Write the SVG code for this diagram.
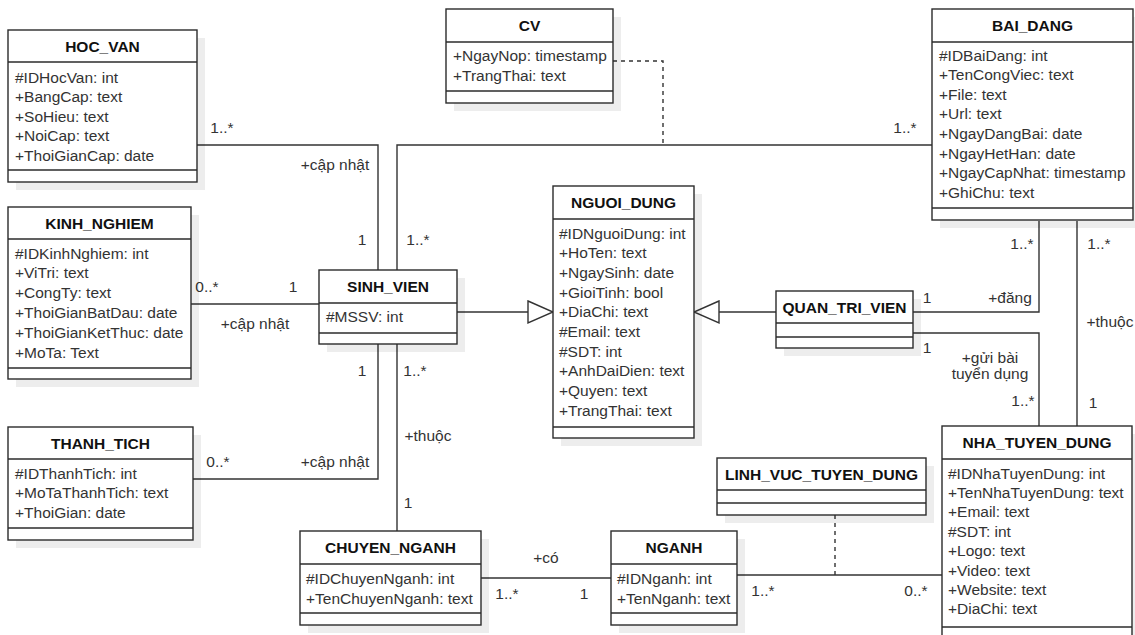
<svg xmlns="http://www.w3.org/2000/svg" width="1135" height="635" viewBox="0 0 1135 635">
<style>
.sh{fill:#000;opacity:0.07}
.bx{fill:#fff;stroke:#2b2b2b;stroke-width:1.4}
.sp{stroke:#2b2b2b;stroke-width:1.4}
.t{font-family:"Liberation Sans",Arial,sans-serif;font-size:15.5px;font-weight:bold;fill:#111;text-anchor:middle}
.a{font-family:"Liberation Sans",Arial,sans-serif;font-size:15.5px;fill:#333}
.l{font-family:"Liberation Sans",Arial,sans-serif;font-size:15.5px;fill:#333;text-anchor:middle}
.c{fill:none;stroke:#333;stroke-width:1.4}
.d{fill:none;stroke:#333;stroke-width:1.4;stroke-dasharray:4 4}
.tri{fill:#fff;stroke:#333;stroke-width:1.4}
</style>
<rect width="1135" height="635" fill="#fff"/>

<g id="connectors">
  <!-- HOC_VAN - SINH_VIEN -->
  <polyline class="c" points="197,145 378,145 378,270"/>
  <text class="l" x="222" y="132.5">1..*</text>
  <text class="l" x="335" y="169.5">+cập nhật</text>
  <text class="l" x="362" y="244.5">1</text>
  <!-- BAI_DANG - SINH_VIEN -->
  <polyline class="c" points="932,145 397,145 397,270"/>
  <text class="l" x="905" y="132.5">1..*</text>
  <text class="l" x="418" y="244.5">1..*</text>
  <!-- CV dashed -->
  <polyline class="d" points="613,61 663,61 663,145"/>
  <!-- KINH_NGHIEM - SINH_VIEN -->
  <line class="c" x1="191" y1="304" x2="319" y2="304"/>
  <text class="l" x="207" y="291.5">0..*</text>
  <text class="l" x="293" y="291.5">1</text>
  <text class="l" x="255" y="328.5">+cập nhật</text>
  <!-- THANH_TICH - SINH_VIEN -->
  <polyline class="c" points="193,479 378,479 378,344"/>
  <text class="l" x="362" y="375.5">1</text>
  <text class="l" x="218" y="466.5">0..*</text>
  <text class="l" x="335" y="466.5">+cập nhật</text>
  <!-- SINH_VIEN - CHUYEN_NGANH -->
  <line class="c" x1="397" y1="344" x2="397" y2="531"/>
  <text class="l" x="415" y="375.5">1..*</text>
  <text class="l" x="428" y="440.5">+thuộc</text>
  <text class="l" x="408" y="507.5">1</text>
  <!-- Generalization SINH_VIEN -> NGUOI_DUNG -->
  <line class="c" x1="457" y1="312" x2="528" y2="312"/>
  <polygon class="tri" points="528,301 553,312 528,323"/>
  <!-- Generalization QUAN_TRI_VIEN -> NGUOI_DUNG -->
  <line class="c" x1="719" y1="312" x2="776" y2="312"/>
  <polygon class="tri" points="719,301 694,312 719,323"/>
  <!-- QUAN_TRI_VIEN - BAI_DANG -->
  <polyline class="c" points="913,312 1039,312 1039,221"/>
  <text class="l" x="927" y="302.5">1</text>
  <text class="l" x="1010" y="302.5">+đăng</text>
  <text class="l" x="1022" y="248.5">1..*</text>
  <!-- QUAN_TRI_VIEN - NHA_TUYEN_DUNG -->
  <polyline class="c" points="913,333 1039,333 1039,426"/>
  <text class="l" x="927" y="352.5">1</text>
  <text class="l" x="990" y="362.5">+gửi bài</text>
  <text class="l" x="990" y="378.5">tuyển dụng</text>
  <text class="l" x="1023" y="405.5">1..*</text>
  <!-- BAI_DANG - NHA_TUYEN_DUNG -->
  <line class="c" x1="1077" y1="221" x2="1077" y2="426"/>
  <text class="l" x="1099" y="248.5">1..*</text>
  <text class="l" x="1110" y="326.5">+thuộc</text>
  <text class="l" x="1093" y="407.5">1</text>
  <!-- CHUYEN_NGANH - NGANH -->
  <line class="c" x1="481" y1="578" x2="611" y2="578"/>
  <text class="l" x="546" y="562.5">+có</text>
  <text class="l" x="507" y="598.5">1..*</text>
  <text class="l" x="584" y="598.5">1</text>
  <!-- NGANH - NHA_TUYEN_DUNG -->
  <line class="c" x1="737" y1="575" x2="942" y2="575"/>
  <text class="l" x="763" y="595.5">1..*</text>
  <text class="l" x="916" y="595.5">0..*</text>
  <!-- LINH_VUC dashed -->
  <line class="d" x1="835" y1="515" x2="835" y2="575"/>
</g>

<g id="HOC_VAN">
  <rect class="sh" x="16" y="38" width="189" height="152"/>
  <rect class="bx" x="8" y="30" width="189" height="152"/>
  <line class="sp" x1="8" y1="62" x2="197" y2="62"/>
  <line class="sp" x1="8" y1="170" x2="197" y2="170"/>
  <text class="t" x="102.5" y="51.5">HOC_VAN</text>
  <text class="a" x="15" y="82.5"><tspan>#IDHocVan: int</tspan><tspan x="15" dy="19.5">+BangCap: text</tspan><tspan x="15" dy="19.5">+SoHieu: text</tspan><tspan x="15" dy="19.5">+NoiCap: text</tspan><tspan x="15" dy="19.5">+ThoiGianCap: date</tspan></text>
</g>

<g id="KINH_NGHIEM">
  <rect class="sh" x="16" y="215" width="183" height="172"/>
  <rect class="bx" x="8" y="207" width="183" height="172"/>
  <line class="sp" x1="8" y1="239" x2="191" y2="239"/>
  <line class="sp" x1="8" y1="368" x2="191" y2="368"/>
  <text class="t" x="99.5" y="228.5">KINH_NGHIEM</text>
  <text class="a" x="15" y="258.5"><tspan>#IDKinhNghiem: int</tspan><tspan x="15" dy="19.8">+ViTri: text</tspan><tspan x="15" dy="19.8">+CongTy: text</tspan><tspan x="15" dy="19.8">+ThoiGianBatDau: date</tspan><tspan x="15" dy="19.8">+ThoiGianKetThuc: date</tspan><tspan x="15" dy="19.8">+MoTa: Text</tspan></text>
</g>

<g id="THANH_TICH">
  <rect class="sh" x="16" y="435" width="185" height="113"/>
  <rect class="bx" x="8" y="427" width="185" height="113"/>
  <line class="sp" x1="8" y1="459" x2="193" y2="459"/>
  <line class="sp" x1="8" y1="528" x2="193" y2="528"/>
  <text class="t" x="100.5" y="448.5">THANH_TICH</text>
  <text class="a" x="15" y="478.5"><tspan>#IDThanhTich: int</tspan><tspan x="15" dy="19.5">+MoTaThanhTich: text</tspan><tspan x="15" dy="19.5">+ThoiGian: date</tspan></text>
</g>

<g id="SINH_VIEN">
  <rect class="sh" x="327" y="278" width="138" height="74"/>
  <rect class="bx" x="319" y="270" width="138" height="74"/>
  <line class="sp" x1="319" y1="303" x2="457" y2="303"/>
  <line class="sp" x1="319" y1="333" x2="457" y2="333"/>
  <text class="t" x="388" y="292">SINH_VIEN</text>
  <text class="a" x="326" y="321.5">#MSSV: int</text>
</g>

<g id="CV">
  <rect class="sh" x="454" y="17" width="167" height="94"/>
  <rect class="bx" x="446" y="9" width="167" height="94"/>
  <line class="sp" x1="446" y1="42" x2="613" y2="42"/>
  <line class="sp" x1="446" y1="91" x2="613" y2="91"/>
  <text class="t" x="529.5" y="31">CV</text>
  <text class="a" x="453" y="60.5"><tspan>+NgayNop: timestamp</tspan><tspan x="453" dy="20">+TrangThai: text</tspan></text>
</g>

<g id="NGUOI_DUNG">
  <rect class="sh" x="561" y="194" width="141" height="252"/>
  <rect class="bx" x="553" y="186" width="141" height="252"/>
  <line class="sp" x1="553" y1="219" x2="694" y2="219"/>
  <line class="sp" x1="553" y1="427" x2="694" y2="427"/>
  <text class="t" x="623.5" y="208">NGUOI_DUNG</text>
  <text class="a" x="559" y="238.5"><tspan>#IDNguoiDung: int</tspan><tspan x="559" dy="19.7">+HoTen: text</tspan><tspan x="559" dy="19.7">+NgaySinh: date</tspan><tspan x="559" dy="19.7">+GioiTinh: bool</tspan><tspan x="559" dy="19.7">+DiaChi: text</tspan><tspan x="559" dy="19.7">#Email: text</tspan><tspan x="559" dy="19.7">#SDT: int</tspan><tspan x="559" dy="19.7">+AnhDaiDien: text</tspan><tspan x="559" dy="19.7">+Quyen: text</tspan><tspan x="559" dy="19.7">+TrangThai: text</tspan></text>
</g>

<g id="QUAN_TRI_VIEN">
  <rect class="sh" x="784" y="299" width="137" height="57"/>
  <rect class="bx" x="776" y="291" width="137" height="57"/>
  <line class="sp" x1="776" y1="323" x2="913" y2="323"/>
  <line class="sp" x1="776" y1="337" x2="913" y2="337"/>
  <text class="t" x="844.5" y="312.5">QUAN_TRI_VIEN</text>
</g>

<g id="BAI_DANG">
  <rect class="sh" x="940" y="17" width="201" height="211"/>
  <rect class="bx" x="932" y="9" width="201" height="211"/>
  <line class="sp" x1="932" y1="42" x2="1133" y2="42"/>
  <line class="sp" x1="932" y1="208" x2="1133" y2="208"/>
  <text class="t" x="1032.5" y="31">BAI_DANG</text>
  <text class="a" x="939" y="60.5"><tspan>#IDBaiDang: int</tspan><tspan x="939" dy="19.6">+TenCongViec: text</tspan><tspan x="939" dy="19.6">+File: text</tspan><tspan x="939" dy="19.6">+Url: text</tspan><tspan x="939" dy="19.6">+NgayDangBai: date</tspan><tspan x="939" dy="19.6">+NgayHetHan: date</tspan><tspan x="939" dy="19.6">+NgayCapNhat: timestamp</tspan><tspan x="939" dy="19.6">+GhiChu: text</tspan></text>
</g>

<g id="CHUYEN_NGANH">
  <rect class="sh" x="308" y="539" width="181" height="94"/>
  <rect class="bx" x="300" y="531" width="181" height="94"/>
  <line class="sp" x1="300" y1="564" x2="481" y2="564"/>
  <line class="sp" x1="300" y1="613" x2="481" y2="613"/>
  <text class="t" x="390.5" y="553">CHUYEN_NGANH</text>
  <text class="a" x="306" y="583.5"><tspan>#IDChuyenNganh: int</tspan><tspan x="306" dy="20">+TenChuyenNganh: text</tspan></text>
</g>

<g id="NGANH">
  <rect class="sh" x="619" y="539" width="126" height="94"/>
  <rect class="bx" x="611" y="531" width="126" height="94"/>
  <line class="sp" x1="611" y1="564" x2="737" y2="564"/>
  <line class="sp" x1="611" y1="613" x2="737" y2="613"/>
  <text class="t" x="674" y="553">NGANH</text>
  <text class="a" x="617" y="583.5"><tspan>#IDNganh: int</tspan><tspan x="617" dy="20">+TenNganh: text</tspan></text>
</g>

<g id="LINH_VUC_TUYEN_DUNG">
  <rect class="sh" x="725" y="466" width="209" height="57"/>
  <rect class="bx" x="717" y="458" width="209" height="57"/>
  <line class="sp" x1="717" y1="490" x2="926" y2="490"/>
  <line class="sp" x1="717" y1="503" x2="926" y2="503"/>
  <text class="t" x="821.5" y="479.5">LINH_VUC_TUYEN_DUNG</text>
</g>

<g id="NHA_TUYEN_DUNG">
  <rect class="sh" x="950" y="434" width="190" height="220"/>
  <rect class="bx" x="942" y="426" width="190" height="220"/>
  <line class="sp" x1="942" y1="459" x2="1132" y2="459"/>
  <line class="sp" x1="942" y1="627" x2="1132" y2="627"/>
  <text class="t" x="1037" y="448">NHA_TUYEN_DUNG</text>
  <text class="a" x="948" y="478.5"><tspan>#IDNhaTuyenDung: int</tspan><tspan x="948" dy="19.4">+TenNhaTuyenDung: text</tspan><tspan x="948" dy="19.4">+Email: text</tspan><tspan x="948" dy="19.4">#SDT: int</tspan><tspan x="948" dy="19.4">+Logo: text</tspan><tspan x="948" dy="19.4">+Video: text</tspan><tspan x="948" dy="19.4">+Website: text</tspan><tspan x="948" dy="19.4">+DiaChi: text</tspan></text>
</g>
</svg>
